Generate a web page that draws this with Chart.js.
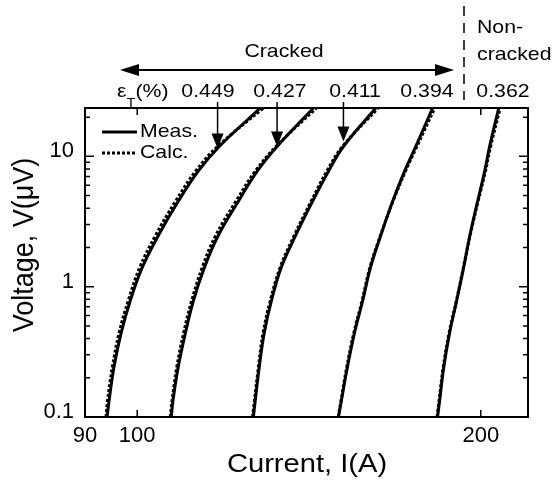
<!DOCTYPE html>
<html>
<head>
<meta charset="utf-8">
<script src="https://cdn.jsdelivr.net/npm/chart.js@4"></script>
<style>
  html, body { margin: 0; padding: 0; background: #fff; }
  canvas { display: block; }
</style>
</head>
<body>
<canvas id="ivChart" width="555" height="486"></canvas>
<script>
// voltage levels (uV) shared by every curve
const voltage = [0.1, 0.135, 0.24, 0.44, 0.78, 1.4, 2.45, 4.5, 7.7, 11.9, 23.5];

// measured current (A) for each strain
const meas1 = [94.1, 94.5, 95.4, 96.8, 98.6, 101.0, 104.3, 108.6, 113.1, 118.0, 128.2];
const meas2 = [107.1, 107.5, 108.6, 110.2, 112.0, 114.5, 117.7, 122.6, 127.4, 132.6, 142.7];
const meas3 = [126.4, 126.9, 127.9, 129.2, 131.1, 133.7, 137.6, 142.4, 147.1, 151.6, 161.8];
const meas4 = [150.1, 151.0, 152.8, 155.0, 157.6, 160.1, 163.4, 167.4, 171.5, 175.4, 181.5];
const meas5 = [183.3, 184.1, 185.6, 187.8, 190.5, 193.2, 195.6, 198.7, 201.6, 203.6, 207.4];

// calculated current (A)
const calc1 = [93.9, 94.2, 95.1, 96.4, 98.2, 100.5, 103.7, 108.0, 112.5, 117.6, 129.0];
const calc2 = [106.9, 107.3, 108.3, 109.8, 111.6, 114.0, 117.1, 122.0, 126.9, 132.3, 143.6];
const calc3 = [126.2, 126.7, 127.7, 128.9, 130.8, 133.4, 137.2, 142.0, 146.6, 151.3, 162.6];
const calc4 = [150.0, 150.9, 152.6, 154.8, 157.4, 159.9, 163.3, 167.5, 171.8, 175.8, 182.3];
const calc5 = [183.1, 183.9, 185.4, 187.6, 190.4, 193.1, 195.7, 198.9, 201.9, 204.0, 208.0];

const strainLabels = ['0.449', '0.427', '0.411', '0.394', '0.362'];
// where the strain arrows point on the curves
const arrowCurrent = [117.6, 132.6, 151.6];
const arrowVoltage = [11.5, 11.9, 13.0];

const xTicks = [90, 100, 200];
const xTickLabels = ['90', '100', '200'];
const yTicks = [0.1, 1, 10];
const yTickLabels = ['0.1', '1', '10'];

const FONT = '"Liberation Sans", Arial, sans-serif';
const SX = 1.12;

const measured = [meas1, meas2, meas3, meas4, meas5];
const calculated = [calc1, calc2, calc3, calc4, calc5];

function toPoints(cur) {
  return cur.map((c, i) => ({ x: c, y: voltage[i] }));
}

const datasets = [];
calculated.forEach(c => {
  datasets.push({
    label: 'Calc.', data: toPoints(c),
    borderColor: '#000', borderWidth: 3, borderDash: [3, 2],
    pointRadius: 0, tension: 0.4
  });
});
measured.forEach(m => {
  datasets.push({
    label: 'Meas.', data: toPoints(m),
    borderColor: '#000', borderWidth: 3,
    pointRadius: 0, tension: 0.4
  });
});

function stretchText(ctx, str, x, y, size, align) {
  ctx.save();
  ctx.font = size + 'px ' + FONT;
  ctx.textAlign = align || 'center';
  ctx.textBaseline = 'middle';
  ctx.translate(x, y);
  ctx.scale(SX, 1);
  ctx.fillText(str, 0, 0);
  ctx.restore();
}

function textWidth(ctx, str, size) {
  ctx.font = size + 'px ' + FONT;
  return ctx.measureText(str).width * SX;
}

const overlay = {
  id: 'overlay',
  afterDraw(chart) {
    const { ctx, chartArea: a, scales: { x, y } } = chart;
    ctx.save();
    ctx.fillStyle = '#000';
    ctx.strokeStyle = '#000';

    // frame
    ctx.lineWidth = 2;
    ctx.strokeRect(a.left, a.top, a.right - a.left, a.bottom - a.top);

    // tick marks, inward on all sides
    ctx.lineWidth = 1.5;
    ctx.beginPath();
    xTicks.forEach(v => {
      const px = x.getPixelForValue(v);
      if (px <= a.left + 1) return;
      ctx.moveTo(px, a.bottom); ctx.lineTo(px, a.bottom - 7);
      ctx.moveTo(px, a.top); ctx.lineTo(px, a.top + 7);
    });
    for (let d = 0.1; d < 30; d *= 10) {
      for (let m = 1; m < 10; m++) {
        const v = d * m;
        if (v > y.max) break;
        const py = y.getPixelForValue(v);
        const len = m === 1 ? 9 : 5;
        ctx.moveTo(a.left, py); ctx.lineTo(a.left + len, py);
        ctx.moveTo(a.right, py); ctx.lineTo(a.right - len, py);
      }
    }
    ctx.stroke();

    // legend
    ctx.lineWidth = 3;
    ctx.beginPath();
    ctx.moveTo(102, 132); ctx.lineTo(137, 132);
    ctx.stroke();
    ctx.setLineDash([3, 2]);
    ctx.beginPath();
    ctx.moveTo(102, 153); ctx.lineTo(135, 153);
    ctx.stroke();
    ctx.setLineDash([]);
    stretchText(ctx, 'Meas.', 140, 132, 19, 'left');
    stretchText(ctx, 'Calc.', 140, 153, 19, 'left');

    // strain arrows
    ctx.lineWidth = 1.5;
    arrowCurrent.forEach((c, i) => {
      const px = x.getPixelForValue(c);
      const tip = y.getPixelForValue(arrowVoltage[i]);
      ctx.beginPath();
      ctx.moveTo(px, 102); ctx.lineTo(px, tip - 12);
      ctx.stroke();
      ctx.beginPath();
      ctx.moveTo(px, tip); ctx.lineTo(px - 6, tip - 15); ctx.lineTo(px + 6, tip - 15);
      ctx.closePath(); ctx.fill();
    });

    // strain labels
    const labelX = [208, 280, 355, 427, 503];
    strainLabels.forEach((s, i) => stretchText(ctx, s, labelX[i], 92, 19, 'center'));
    let ex = 117;
    stretchText(ctx, '\u03b5', ex, 92, 19, 'left');
    ex += textWidth(ctx, '\u03b5', 19);
    stretchText(ctx, 'T', ex, 103, 13, 'left');
    ex += textWidth(ctx, 'T', 13);
    stretchText(ctx, '(%)', ex, 92, 19, 'left');

    // cracked double arrow
    ctx.lineWidth = 2;
    ctx.beginPath();
    ctx.moveTo(134, 70); ctx.lineTo(440, 70);
    ctx.stroke();
    ctx.beginPath();
    ctx.moveTo(120, 70); ctx.lineTo(139, 64); ctx.lineTo(139, 76); ctx.closePath();
    ctx.moveTo(454, 70); ctx.lineTo(435, 64); ctx.lineTo(435, 76); ctx.closePath();
    ctx.fill();
    stretchText(ctx, 'Cracked', 284, 52, 19, 'center');

    // boundary dashed line
    ctx.lineWidth = 1.5;
    ctx.setLineDash([10, 7]);
    ctx.beginPath();
    ctx.moveTo(464, 6); ctx.lineTo(464, 100);
    ctx.stroke();
    ctx.setLineDash([]);
    stretchText(ctx, 'Non-', 477, 28, 19, 'left');
    stretchText(ctx, 'cracked', 477, 55, 19, 'left');

    // axis titles
    stretchText(ctx, 'Current, I(A)', 307, 465, 26, 'center');
    ctx.save();
    ctx.font = '27px ' + FONT;
    ctx.textAlign = 'center';
    ctx.textBaseline = 'middle';
    ctx.translate(25, 245);
    ctx.rotate(-Math.PI / 2);
    ctx.scale(1, SX);
    ctx.fillText('Voltage, V(\u03bcV)', 0, 0);
    ctx.restore();

    ctx.restore();
  }
};

new Chart(document.getElementById('ivChart'), {
  type: 'line',
  data: { datasets: datasets },
  options: {
    responsive: false,
    animation: false,
    layout: { padding: { top: 108, right: 27, left: 0, bottom: 0 } },
    plugins: { legend: { display: false }, tooltip: { enabled: false } },
    scales: {
      x: {
        type: 'logarithmic', min: 90, max: 220, position: 'bottom',
        grid: { display: false, drawTicks: false },
        border: { display: false },
        ticks: {
          color: '#000', font: { family: FONT, size: 22 }, padding: 6,
          maxRotation: 0, autoSkip: false,
          callback: (v, i) => xTickLabels[i]
        },
        afterBuildTicks: s => { s.ticks = xTicks.map(v => ({ value: v })); },
        afterFit: s => { s.height = 69; }
      },
      y: {
        type: 'logarithmic', min: 0.1, max: 23.5,
        grid: { display: false, drawTicks: false },
        border: { display: false },
        ticks: {
          color: '#000', font: { family: FONT, size: 22 }, padding: 11,
          labelOffset: -5, autoSkip: false,
          callback: (v, i) => yTickLabels[i]
        },
        afterBuildTicks: s => { s.ticks = yTicks.map(v => ({ value: v })); },
        afterFit: s => { s.width = 85; }
      }
    }
  },
  plugins: [overlay]
});
</script>
</body>
</html>
